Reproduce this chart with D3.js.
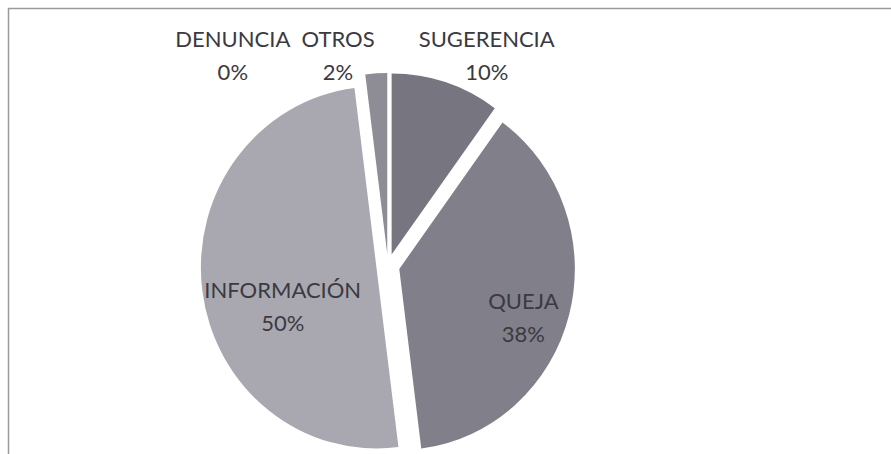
<!DOCTYPE html>
<html>
<head>
<meta charset="utf-8">
<script src="https://cdn.jsdelivr.net/npm/d3@7"></script>
<style>
  body { margin: 0; background: #fff; }
  svg text { font-family: Lato, "Open Sans", sans-serif; fill: #3a3a40; }
</style>
</head>
<body>
<div id="piechart"></div>
<script>
// data of the chart
var categories = ["SUGERENCIA", "QUEJA", "INFORMACIÓN", "DENUNCIA", "OTROS"];
var values = [10, 38, 50, 0, 2];
var percentLabels = ["10%", "38%", "50%", "0%", "2%"];
var colors = ["#77757f", "#817f8a", "#a9a8b1", "#9a98a2", "#8e8c95"];

// label placement (angle in degrees clockwise from top, distance from centre)
var labelAngle = [25.9, 110.5, 249.3, 322.7, 346.2];
var labelDist = [233, 149, 116, 264, 216];

var width = 891,
    height = 454,
    cx = 388,
    cy = 266,
    radius = 181,
    squash = 0.97,   // the scanned pie is a little narrower than high
    explode = 12;

var svg = d3.select("#piechart")
    .append("svg")
    .attr("width", width)
    .attr("height", height);

// frame of the chart area (only top and left edge are inside the picture)
svg.append("rect")
    .attr("x", 8.5)
    .attr("y", 8.5)
    .attr("width", width + 20)
    .attr("height", height + 20)
    .attr("fill", "none")
    .attr("stroke", "#9a9a9a")
    .attr("stroke-width", 1.5);

var pie = d3.pie()
    .sort(null)
    .value(function(d) { return d; });

var arc = d3.arc()
    .innerRadius(0)
    .outerRadius(radius);

var arcs = pie(values);

// group holding the (slightly squashed) pie
var vis = svg.append("g")
    .attr("transform", "translate(" + cx + "," + cy + ") scale(" + squash + ",1)");

vis.selectAll(".pad")
    .data(arcs)
    .enter().append("path")
    .attr("class", "pad")
    .attr("fill", function(d, i) { return colors[i]; })
    .attr("transform", function(d) {
      var mid = (d.startAngle + d.endAngle) / 2;
      return "translate(" + (explode * Math.sin(mid)) + "," + (-explode * Math.cos(mid)) + ")";
    })
    .attr("d", function(d) { return d.endAngle > d.startAngle ? arc(d) : null; });

// labels: name on first line, percentage below
var labels = svg.selectAll(".label")
    .data(arcs)
    .enter().append("text")
    .attr("class", "label")
    .attr("text-anchor", "middle")
    .attr("font-size", "22px")
    .attr("transform", function(d, i) {
      var a = labelAngle[i] * Math.PI / 180;
      var x = cx + labelDist[i] * Math.sin(a) * squash;
      var y = cy - labelDist[i] * Math.cos(a);
      return "translate(" + x + "," + y + ")";
    });

labels.append("tspan")
    .attr("x", 0)
    .attr("y", -9)
    .text(function(d, i) { return categories[i]; });

labels.append("tspan")
    .attr("x", 0)
    .attr("y", 24)
    .text(function(d, i) { return percentLabels[i]; });
</script>
</body>
</html>
